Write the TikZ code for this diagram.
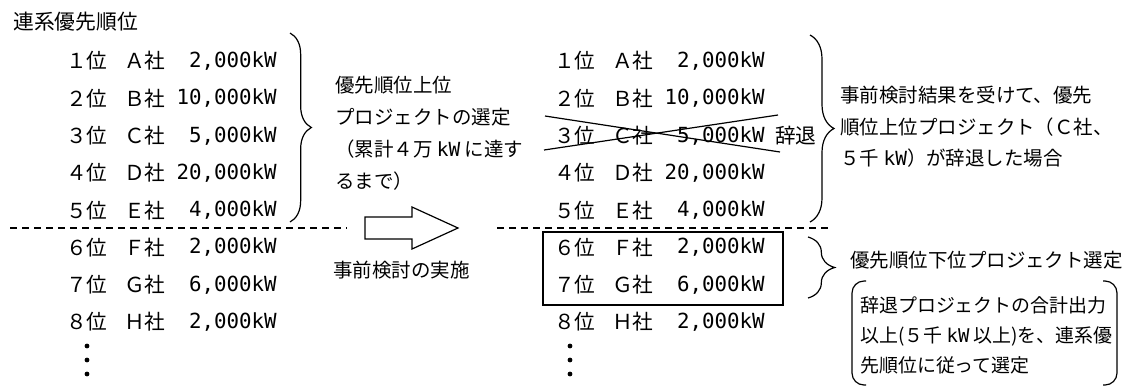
\documentclass[tikz,border=0pt]{standalone}
\usepackage{fontspec}
\setmainfont{Noto Sans CJK JP}
\newfontfamily\amtfont{DejaVu Sans Mono}
\usetikzlibrary{decorations.pathreplacing}
\newcommand{\kw}{{\amtfont kW}}
\begin{document}
\begin{tikzpicture}[x=0.75pt,y=-0.75pt,
  txt/.style={inner sep=0pt,anchor=west,align=left,font=\fontsize{14.6pt}{24pt}\selectfont},
  rank/.style={inner sep=0pt,anchor=west,font=\fontsize{15.5pt}{18pt}\selectfont},
  amt/.style={inner sep=0pt,anchor=east,font=\amtfont\fontsize{15.6pt}{18pt}\selectfont},
  brc/.style={decorate,decoration={brace,amplitude=#1},line width=0.9pt},
  sep/.style={dash pattern=on 5pt off 4pt,line width=0.9pt},
  dot/.style={circle,fill,inner sep=0pt,minimum size=3.6pt}]
\useasboundingbox (0,0) rectangle (1124,387);
\node[txt,font=\fontsize{15.6pt}{18pt}\selectfont] (title) at (13,22) {連系優先順位};
% ranking lists, before and after the study
\foreach \r/\n/\c/\p in {1/１/Ａ/2,2/２/Ｂ/10,3/３/Ｃ/5,4/４/Ｄ/20,5/５/Ｅ/4,6/６/Ｆ/2,7/７/Ｇ/6,8/８/Ｈ/2}
{
	\node[rank] (lr\r) at (66,{61+37.3*(\r-1)}) {\n 位};
	\node[rank] (lc\r) at (124,{61+37.3*(\r-1)}) {\c 社};
	\node[amt] (la\r) at (277,{61+37.3*(\r-1)}) {\p,000kW};
	\node[rank] (rr\r) at (554,{61+37.3*(\r-1)}) {\n 位};
	\node[rank] (rc\r) at (612,{61+37.3*(\r-1)}) {\c 社};
	\node[amt] (ra\r) at (765,{61+37.3*(\r-1)}) {\p,000kW};
}
\foreach \y [count=\i] in {346,360,374}
{
	\node[dot] (ldot\i) at (87,\y) {};
	\node[dot] (rdot\i) at (570,\y) {};
}
\draw[sep] (10,228) -- (347,228);
\draw[sep] (497,228) -- (830,228);
% withdrawn project
\draw[line width=0.9pt] (545,116) -- (780,152);
\draw[line width=0.9pt] (544,150) -- (778,115);
\node[rank] (jitai) at (775,135.6) {辞退};
\draw[line width=1.5pt] (543,232) rectangle (783,305);
% braces and notes
\draw[brc=16pt] (290,33) -- (290,222);
\node[txt] (upper) at (335,133.5) {優先順位上位\\プロジェクトの選定\\（累計４万 \kw{} に達す\\るまで）};
\draw[line width=0.9pt] (365,217) -- (412,217) -- (412,207) -- (458,228) -- (412,249) -- (412,239) -- (365,239) -- cycle;
\node[txt] (study) at (333,270) {事前検討の実施};
\draw[brc=18pt] (810,35) -- (810,222);
\node[txt,font=\fontsize{14.6pt}{23.6pt}\selectfont] (withdraw) at (840,127) {事前検討結果を受けて、優先\\順位上位プロジェクト（Ｃ社、\\５千 \kw）が辞退した場合};
\draw[brc=20pt] (808,237) -- (808,298);
\node[txt] (lower) at (850,260) {優先順位下位プロジェクト選定};
\node[txt,font=\fontsize{14.2pt}{22.5pt}\selectfont] (rule) at (860,335) {辞退プロジェクトの合計出力\\以上(５千 \kw{} 以上)を、連系優\\先順位に従って選定};
\draw[line width=0.9pt,rounded corners=9pt] (866,281) -- (852,281) -- (852,385) -- (866,385);
\draw[line width=0.9pt,rounded corners=9pt] (1103,281) -- (1117,281) -- (1117,385) -- (1103,385);
\end{tikzpicture}
\end{document}
